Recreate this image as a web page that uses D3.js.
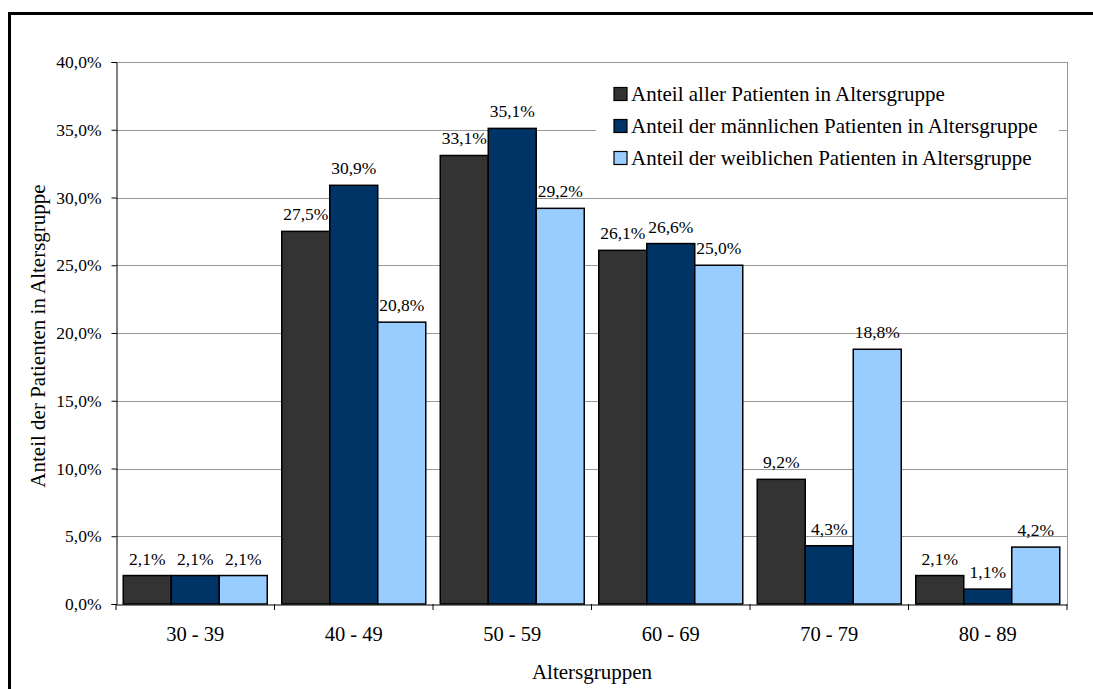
<!DOCTYPE html>
<html><head><meta charset="utf-8">
<script src="https://cdn.jsdelivr.net/npm/d3@7"></script>
<style>
html,body{margin:0;padding:0;background:#fff;overflow:hidden;}
svg{display:block;font-family:"Liberation Serif","Times New Roman",serif;}
</style></head>
<body><svg id="c" width="1093" height="689"></svg>
<script>
const categories = ["30 - 39","40 - 49","50 - 59","60 - 69","70 - 79","80 - 89"];
const seriesNames = ["Anteil aller Patienten in Altersgruppe","Anteil der männlichen Patienten in Altersgruppe","Anteil der weiblichen Patienten in Altersgruppe"];
const allPatients = [2.1,27.5,33.1,26.1,9.2,2.1];
const malePatients = [2.1,30.9,35.1,26.6,4.3,1.1];
const femalePatients = [2.1,20.8,29.2,25.0,18.8,4.2];
const yTicks = [0,5,10,15,20,25,30,35,40];
const colors = ["#333333","#003366","#99CCFF"];
const seriesData = [allPatients, malePatients, femalePatients];

const svg = d3.select("#c");
const FF = "Liberation Serif";
const L = 116, R = 1067, T = 62, B = 604;
const fmt = v => d3.format(".1f")(v).replace(".", ",") + "%";

// outer frame: only top and left edges are visible
svg.append("path").attr("d","M9.5,689 L9.5,13.5 L1093,13.5")
  .attr("fill","none").attr("stroke","#000").attr("stroke-width",3);

const y = d3.scaleLinear().domain([0,40]).range([B,T]);
const x0 = d3.scaleBand().domain(categories).range([L,R]).padding(0);
const pad = 7.25;
const x1 = d3.scaleBand().domain(d3.range(3)).range([pad, x0.bandwidth()-pad]).padding(0);

// gridlines
svg.append("g").selectAll("line").data(yTicks.filter(d=>d>0)).join("line")
  .attr("x1",L).attr("x2",R).attr("y1",d=>Math.round(y(d))+0.5).attr("y2",d=>Math.round(y(d))+0.5)
  .attr("stroke","#999").attr("stroke-width",1);
svg.append("line").attr("x1",R+0.5).attr("x2",R+0.5).attr("y1",T).attr("y2",B).attr("stroke","#999");

// bars
const g = svg.append("g");
categories.forEach((c,i)=>{
  seriesData.forEach((s,j)=>{
    const bx = x0(c)+x1(j);
    g.append("rect").attr("x",bx).attr("y",y(s[i])).attr("width",x1.bandwidth())
      .attr("height",B-y(s[i])).attr("fill",colors[j]).attr("stroke","#000").attr("stroke-width",1.5);
    g.append("text").attr("x",bx+x1.bandwidth()/2).attr("y",y(s[i])-11)
      .attr("text-anchor","middle").attr("font-family",FF).attr("font-size",17.5).attr("fill","#000").text(fmt(s[i]));
  });
});

// y axis
const yAxis = d3.axisLeft(y).tickValues(yTicks).tickSize(5).tickPadding(10).tickFormat(fmt);
const ya = svg.append("g").attr("transform",`translate(${L+0.5},0)`).call(yAxis);
ya.select(".domain").attr("stroke","#000");
ya.selectAll(".tick line").attr("stroke","#000");
ya.selectAll("text").attr("font-size",17.5).attr("font-family",FF).attr("fill","#000");

// x axis
const xa = svg.append("g").attr("transform",`translate(0,${B+0.5})`)
  .call(d3.axisBottom(x0).tickSize(0).tickPadding(22));
xa.select(".domain").attr("stroke","#000");
xa.selectAll("text").attr("font-size",20.5).attr("font-family",FF).attr("fill","#000");
svg.append("g").selectAll("line").data(d3.range(categories.length+1)).join("line")
  .attr("x1",i=>L+i*x0.bandwidth()).attr("x2",i=>L+i*x0.bandwidth())
  .attr("y1",B).attr("y2",B+6).attr("stroke","#000");

// axis titles
svg.append("text").attr("x",592).attr("y",679).attr("text-anchor","middle")
  .attr("font-family",FF).attr("font-size",21).text("Altersgruppen");
svg.append("text").attr("transform","translate(45,336) rotate(-90)").attr("text-anchor","middle")
  .attr("font-family",FF).attr("font-size",21).text("Anteil der Patienten in Altersgruppe");

// legend
const lg = svg.append("g");
lg.append("rect").attr("x",596).attr("y",64).attr("width",463).attr("height",126).attr("fill","#fff");
seriesNames.forEach((n,j)=>{
  const cy = 94 + j*32;
  lg.append("rect").attr("x",614).attr("y",cy-6.5).attr("width",13).attr("height",13)
    .attr("fill",colors[j]).attr("stroke","#000").attr("stroke-width",1.2);
  lg.append("text").attr("x",631).attr("y",cy+7).attr("font-family",FF).attr("font-size",21).text(n);
});
</script></body></html>
